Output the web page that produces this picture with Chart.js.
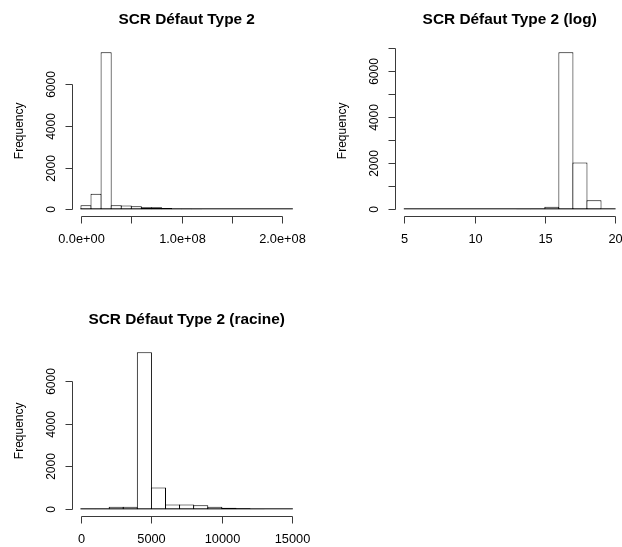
<!DOCTYPE html>
<html>
<head>
<meta charset="utf-8">
<script src="https://cdn.jsdelivr.net/npm/chart.js@4.4.1/dist/chart.umd.min.js"></script>
<style>
  html, body { margin: 0; padding: 0; background: #fff; }
  body { width: 622px; height: 547px; overflow: hidden; position: relative; }
  canvas { position: absolute; left: 0; top: 0; }
</style>
</head>
<body>
<canvas id="histRaw" width="640" height="547"></canvas>
<canvas id="histLog" width="640" height="547"></canvas>
<canvas id="histSqrt" width="640" height="547"></canvas>
<script>
// --- SCR Défaut Type 2 (raw values)
const breaksRaw = [0, 1e7, 2e7, 3e7, 4e7, 5e7, 6e7, 7e7, 8e7, 9e7, 1e8, 1.1e8, 1.2e8, 1.3e8, 1.4e8, 1.5e8, 1.6e8, 1.7e8, 1.8e8, 1.9e8, 2e8, 2.1e8];
const countsRaw = [190, 750, 7540, 190, 185, 145, 100, 95, 65, 30, 25, 10, 6, 4, 3, 2, 1, 1, 0, 0, 1];
const xTicksRaw = [0, 5e7, 1e8, 1.5e8, 2e8];
const xLabelsRaw = ['0.0e+00', '', '1.0e+08', '', '2.0e+08'];
const yTicksRaw = [0, 2000, 4000, 6000];
const yLabelsRaw = ['0', '2000', '4000', '6000'];

// --- log
const breaksLog = [5, 6, 7, 8, 9, 10, 11, 12, 13, 14, 15, 16, 17, 18, 19, 20];
const countsLog = [1, 0, 1, 0, 1, 1, 2, 4, 10, 30, 110, 6810, 2030, 390, 0];
const xTicksLog = [5, 10, 15, 20];
const xLabelsLog = ['5', '10', '15', '20'];
const yTicksLog = [0, 1000, 2000, 3000, 4000, 5000, 6000, 7000];
const yLabelsLog = ['0', '', '2000', '', '4000', '', '6000', ''];

// --- racine
const breaksSqrt = [0, 1000, 2000, 3000, 4000, 5000, 6000, 7000, 8000, 9000, 10000, 11000, 12000, 13000, 14000, 15000];
const countsSqrt = [25, 25, 120, 125, 7320, 1020, 230, 225, 185, 125, 75, 45, 10, 4, 1];
const xTicksSqrt = [0, 5000, 10000, 15000];
const xLabelsSqrt = ['0', '5000', '10000', '15000'];
const yTicksSqrt = [0, 2000, 4000, 6000];
const yLabelsSqrt = ['0', '2000', '4000', '6000'];

const CW = 640, CH = 547;
const FONT = "'Liberation Sans', Arial, sans-serif";
const INK = '#000';
const AXIS = '#3a3a3a';

// R style axes drawn off the plot region
const rAxes = {
    id: 'rAxes',
    beforeDatasetsDraw(chart, args, o) {
        // zero line under the empty bins, like hist() draws them
        const ctx = chart.ctx;
        const x = chart.scales.x, y = chart.scales.y;
        const x0 = x.getPixelForValue(o.breaks[0]) - 0.5;
        const x1 = x.getPixelForValue(o.breaks[o.breaks.length - 1]) + 0.5;
        const y0 = y.getPixelForValue(0);
        ctx.save();
        ctx.fillStyle = INK;
        ctx.fillRect(x0, y0 - 1, x1 - x0, 1);
        ctx.restore();
    },
    afterDraw(chart, args, o) {
        const ctx = chart.ctx;
        const a = chart.chartArea;
        const x = chart.scales.x, y = chart.scales.y;
        ctx.save();
        ctx.strokeStyle = AXIS;
        ctx.fillStyle = '#000';
        ctx.lineWidth = 1;

        // x axis
        const xs = o.xTicks.map(v => Math.round(x.getPixelForValue(v)) + 0.5);
        const yb = Math.round(a.bottom) + 0.5;
        ctx.beginPath();
        ctx.moveTo(xs[0], yb);
        ctx.lineTo(xs[xs.length - 1], yb);
        xs.forEach(px => { ctx.moveTo(px, yb); ctx.lineTo(px, yb + 7); });
        ctx.stroke();

        ctx.font = '12.8px ' + FONT;
        ctx.textAlign = 'center';
        ctx.textBaseline = 'alphabetic';
        xs.forEach((px, i) => { if (o.xLabels[i]) ctx.fillText(o.xLabels[i], px, a.bottom + 27.7); });

        // y axis
        const ys = o.yTicks.map(v => Math.round(y.getPixelForValue(v)) + 0.5);
        const xl = Math.floor(a.left) + 0.5;
        ctx.beginPath();
        ctx.moveTo(xl, ys[0]);
        ctx.lineTo(xl, ys[ys.length - 1]);
        ys.forEach(py => { ctx.moveTo(xl, py); ctx.lineTo(xl - 7, py); });
        ctx.stroke();

        ctx.font = '12px ' + FONT;
        ys.forEach((py, i) => {
            if (!o.yLabels[i]) return;
            ctx.save();
            ctx.translate(a.left - 17.5, py);
            ctx.rotate(-Math.PI / 2);
            ctx.fillText(o.yLabels[i], 0, 0);
            ctx.restore();
        });

        // axis title
        ctx.save();
        ctx.translate(a.left - 50, (a.top + a.bottom) / 2);
        ctx.rotate(-Math.PI / 2);
        ctx.fillText('Frequency', 0, 0);
        ctx.restore();

        // main title
        ctx.font = 'bold 15.4px ' + FONT;
        ctx.fillText(o.title, (a.left + a.right) / 2, a.top - 22);
        ctx.restore();
    }
};

function makeHist(id, title, breaks, counts, xTicks, xLabels, yTicks, yLabels, box) {
    const data = counts.map((c, i) => ({ x: (breaks[i] + breaks[i + 1]) / 2, y: c }));
    const lo = breaks[0], hi = breaks[breaks.length - 1];
    const ext = (hi - lo) * 0.04;
    const ymax = Math.max(...counts);
    const xmin = lo - ext, xmax = hi + ext;
    const gap = (breaks[1] - breaks[0]) / (xmax - xmin) * (box.right - box.left);

    new Chart(document.getElementById(id), {
        type: 'bar',
        data: {
            datasets: [{
                data: data,
                backgroundColor: '#ffffff',
                borderColor: INK,
                borderWidth: 1,
                borderSkipped: false,
                barThickness: gap + 1,
                inflateAmount: 0
            }]
        },
        options: {
            responsive: false,
            animation: false,
            devicePixelRatio: 1,
            layout: {
                padding: { left: box.left, top: box.top, right: CW - box.right, bottom: CH - box.bottom }
            },
            plugins: {
                legend: { display: false },
                tooltip: { enabled: false },
                rAxes: { title, breaks, xTicks, xLabels, yTicks, yLabels }
            },
            scales: {
                x: { type: 'linear', min: xmin, max: xmax, offset: false, display: false },
                y: { min: -0.04 * ymax, max: 1.04 * ymax, display: false }
            }
        },
        plugins: [rAxes]
    });
}

makeHist('histRaw', 'SCR Défaut Type 2', breaksRaw, countsRaw, xTicksRaw, xLabelsRaw, yTicksRaw, yLabelsRaw,
    { left: 72.5, top: 46, right: 300.8, bottom: 215.6 });
makeHist('histLog', 'SCR Défaut Type 2 (log)', breaksLog, countsLog, xTicksLog, xLabelsLog, yTicksLog, yLabelsLog,
    { left: 395.9, top: 46, right: 623.5, bottom: 215.6 });
makeHist('histSqrt', 'SCR Défaut Type 2 (racine)', breaksSqrt, countsSqrt, xTicksSqrt, xLabelsSqrt, yTicksSqrt, yLabelsSqrt,
    { left: 72.5, top: 346, right: 300.8, bottom: 515.6 });
</script>
</body>
</html>
